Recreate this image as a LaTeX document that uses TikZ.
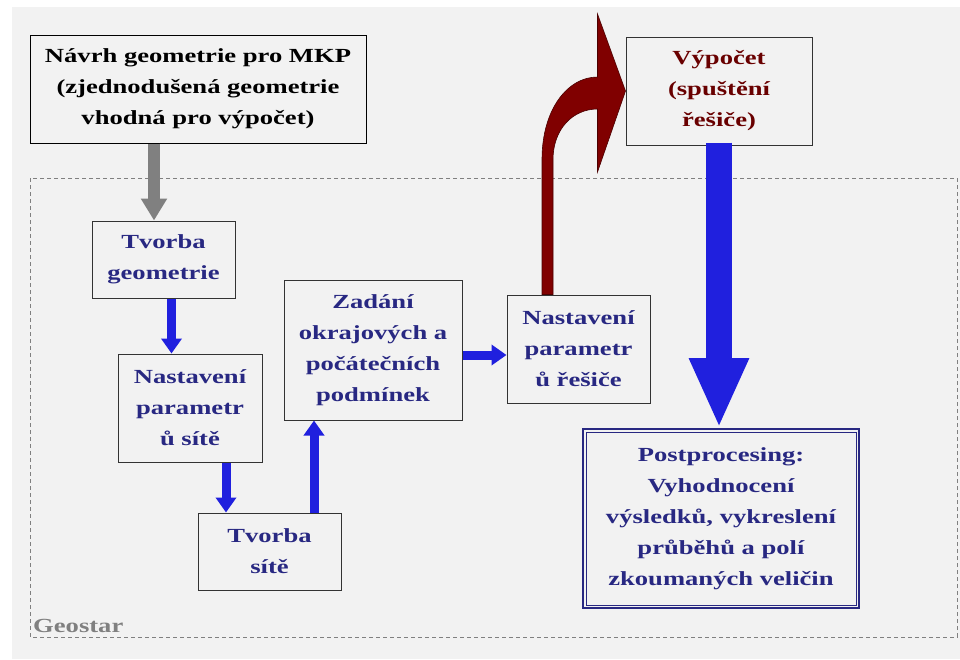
\documentclass[tikz,border=0pt]{standalone}
\usepackage{fontspec}
\setmainfont{Liberation Serif}[FakeStretch=1.33]
\usepackage{tikz}
\usetikzlibrary{arrows.meta,calc}
\definecolor{navytext}{RGB}{40,40,130}
\definecolor{bluearr}{RGB}{32,32,222}
\definecolor{redarr}{RGB}{128,0,0}
\definecolor{redtext}{RGB}{105,0,0}
\definecolor{bgcol}{RGB}{242,242,242}

\begin{document}
\begin{tikzpicture}
[x=1pt,y=-1pt,
box/.style={draw=black!80,line width=1pt,inner sep=0pt,align=center,text=navytext,font=\bfseries\fontsize{20}{31}\selectfont},
bluearrow/.style={draw=bluearr,line width=9pt,-{Triangle[width=20pt,length=15pt]}}]
\useasboundingbox (0,0) rectangle (960,659);
\fill[bgcol] (12,7) rectangle (960,659);
\draw[gray,line width=0.8pt,dash pattern=on 4pt off 3pt] (30,178) rectangle (957,637);
\node[anchor=base west,inner sep=0pt,text=gray,font=\bfseries\fontsize{20}{31}\selectfont] (geostar) at (33,632) {Geostar};
% boxes
\node[box,text=black,draw=black,minimum width=336pt,minimum height=108pt] (navrh) at (198,89) {Návrh geometrie pro MKP\\(zjednodušená geometrie\\vhodná pro výpočet)};
\node[box,minimum width=143pt,minimum height=77pt] (tvgeo) at (163.5,259.5) {Tvorba\\geometrie};
\node[box,minimum width=144pt,minimum height=108pt] (nastsit) at (190,408) {Nastavení\\parametr\\ů sítě};
\node[box,minimum width=143pt,minimum height=77pt] (tvsit) at (269.5,551.5) {Tvorba\\sítě};
\node[box,minimum width=178pt,minimum height=140pt] (zadani) at (373,350) {Zadání\\okrajových a\\počátečních\\podmínek};
\node[box,minimum width=143pt,minimum height=108pt] (nastres) at (578.5,349) {Nastavení\\parametr\\ů řešiče};
\node[box,text=redtext,minimum width=186pt,minimum height=108pt] (vypocet) at (719,91) {Výpočet\\(spuštění\\řešiče)};
\node[box,draw=navytext,line width=2pt,minimum width=276pt,minimum height=179pt] (post) at (721,518.5) {Postprocesing:\\Vyhodnocení\\výsledků, vykreslení\\průběhů a polí\\zkoumaných veličin};
\draw[navytext,line width=0.8pt] ([shift={(4,4)}]post.north west) rectangle ([shift={(-4,-4)}]post.south east);
% arrows
\draw[gray,line width=12pt,-{Triangle[width=25pt,length=22pt]}] ([xshift=-44pt]navrh.south) -- ([xshift=-44pt]navrh.south |- tvgeo.north);
\draw[bluearrow] ([xshift=8pt]tvgeo.south) -- ([xshift=8pt]tvgeo.south |- nastsit.north);
\draw[bluearrow] ([xshift=36pt]nastsit.south) -- ([xshift=36pt]nastsit.south |- tvsit.north);
\draw[bluearrow] ([xshift=44.5pt]tvsit.north) -- ([xshift=44.5pt]tvsit.north |- zadani.south);
\draw[bluearrow] ([yshift=-5pt]zadani.east) -- ([yshift=-5pt]zadani.east -| nastres.west);
\draw[draw=bluearr,line width=26pt,-{Triangle[width=55pt,length=70pt]}] ([yshift=3pt]vypocet.south) -- (vypocet.south |- post.north);
\path ([xshift=-31pt]nastres.north) coordinate (rb) (vypocet.west) coordinate (rt);
\filldraw[fill=redarr,draw=redtext!70!black,line width=0.6pt] ($(rb)+(-5.5,0)$) -- ($(rb)+(-5.5,-135)$) .. controls +(0,-50) and +(-30,0) .. ($(rt)+(-28,-14)$) -- ($(rt)+(-28,-77)$) -- (rt) -- ($(rt)+(-28,81)$) -- ($(rt)+(-28,18)$) .. controls +(-25,0) and +(0,-30) .. ($(rb)+(5.5,-135)$) -- ($(rb)+(5.5,0)$) -- cycle;
\end{tikzpicture}
\end{document}
